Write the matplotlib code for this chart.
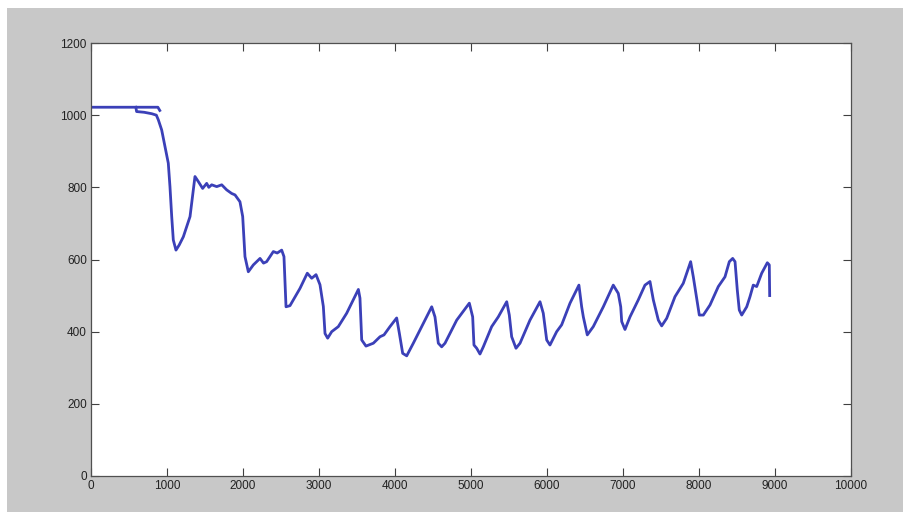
import matplotlib
matplotlib.use("Agg")
import matplotlib.pyplot as plt
from matplotlib.patches import Rectangle
import numpy as np

# Initial flat segment (upper branch)
x_start = [0, 880, 905]
y_start = [1022, 1022, 1013]

# Main trace
x_main = [590, 600, 700, 800, 860, 886, 930, 1017, 1039, 1062, 1083, 1118, 1160, 1215, 1303,
          1368, 1412, 1469, 1522, 1550, 1588, 1654, 1720, 1785, 1851, 1895, 1960, 1996, 2026,
          2070, 2136, 2224, 2270, 2311, 2399, 2450, 2509, 2539, 2566, 2618, 2750, 2846, 2904,
          2961, 3013, 3057, 3079, 3114, 3167, 3254, 3364, 3518, 3539, 3562, 3618, 3715, 3803,
          3855, 3934, 4022, 4057, 4101, 4154, 4241, 4373, 4483, 4526, 4570, 4614, 4658, 4812,
          4978, 5022, 5039, 5075, 5118, 5162, 5272, 5359, 5470, 5504, 5535, 5592, 5645, 5776,
          5908, 5951, 5996, 6039, 6127, 6193, 6303, 6420, 6456, 6478, 6530, 6609, 6741, 6872,
          6938, 6970, 6983, 7026, 7092, 7201, 7289, 7355, 7399, 7465, 7509, 7575, 7684, 7793,
          7890, 7925, 7970, 8004, 8057, 8145, 8254, 8342, 8399, 8443, 8474, 8504, 8530, 8562,
          8628, 8671, 8714, 8759, 8825, 8899, 8925, 8930]
y_main = [1022, 1010, 1008, 1004, 1000, 987, 959, 867, 802, 719, 654, 626, 640, 663, 719,
          830, 816, 797, 811, 800, 807, 802, 807, 793, 783, 779, 760, 719, 608,
          566, 585, 603, 590, 594, 622, 618, 626, 608, 469, 472, 520, 562, 548,
          558, 530, 470, 395, 382, 400, 414, 451, 517, 493, 377, 360, 368, 386,
          391, 414, 438, 396, 340, 333, 368, 423, 469, 441, 368, 358, 368, 432,
          479, 441, 363, 354, 338, 358, 414, 441, 483, 446, 386, 354, 368, 432,
          483, 451, 377, 363, 400, 419, 479, 529, 469, 441, 391, 414, 469, 529,
          506, 469, 428, 406, 441, 488, 529, 539, 488, 432, 416, 437, 497, 534,
          594, 552, 492, 446, 446, 474, 525, 552, 594, 603, 594, 515, 460, 446,
          469, 497, 529, 525, 562, 591, 585, 500]

x_ticks = list(range(0, 10001, 1000))
y_ticks = list(range(0, 1201, 200))

plt.rcParams['font.family'] = ['Liberation Sans Narrow', 'Liberation Sans', 'DejaVu Sans']

fig = plt.figure(figsize=(9.04, 5.12), dpi=100, facecolor='white')
fig.patches.append(Rectangle((7 / 904, 0), 1, (512 - 8) / 512, transform=fig.transFigure,
                             facecolor='#c8c8c8', edgecolor='none', zorder=-10))

ax = fig.add_axes([91 / 904, (512 - 476) / 512, (851 - 91) / 904, (476 - 43) / 512])
ax.set_facecolor('white')

line_color = '#3b40b8'
ax.plot(x_start, y_start, color=line_color, lw=2.0)
ax.plot(x_main, y_main, color=line_color, lw=2.0)

ax.set_xlim(0, 10000)
ax.set_ylim(0, 1200)
ax.set_xticks(x_ticks)
ax.set_yticks(y_ticks)
ax.tick_params(direction='in', length=6, width=0.8, colors='#404040', labelcolor='#222222',
               labelsize=8.5, top=True, right=True, pad=3)
for s in ax.spines.values():
    s.set_color('#505050')
    s.set_linewidth(0.9)

fig.savefig('out.png', dpi=100, facecolor=fig.get_facecolor())
